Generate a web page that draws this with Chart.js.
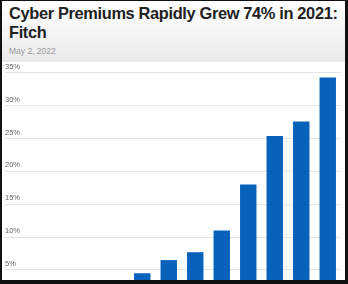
<!DOCTYPE html>
<html>
<head>
<meta charset="utf-8">
<script src="https://cdn.jsdelivr.net/npm/chart.js@4"></script>
<style>
html, body { margin: 0; padding: 0; background: #fff; }
#frame {
    position: relative;
    width: 343px;
    height: 279px;
    border-style: solid;
    border-color: #111;
    border-width: 1px 3px 4px 2px;
    overflow: hidden;
    font-family: "Liberation Sans", Arial, sans-serif;
}
#head {
    height: 61px;
    background: linear-gradient(#ffffff, #ebebeb);
    padding-left: 7px;
}
#head h1 {
    margin: 0;
    padding-top: 3px;
    font-size: 16.4px;
    line-height: 19px;
    font-weight: bold;
    color: #222;
    white-space: nowrap;
    letter-spacing: -0.35px;
}
#head .date {
    margin-top: 4px;
    font-size: 8.5px;
    color: #999;
}
#plot {
    position: absolute;
    left: 0;
    top: 61px;
    width: 343px;
    height: 218px;
}
</style>
</head>
<body>
<div id="frame">
    <div id="head">
        <h1>Cyber Premiums Rapidly Grew 74% in 2021:<br>Fitch</h1>
        <div class="date">May 2, 2022</div>
    </div>
    <div id="plot"><canvas id="chart"></canvas></div>
</div>

<script>
// =====================================
// DATA
// =====================================

const years = [
    "2010", "2011", "2012", "2013", "2014", "2015",
    "2016", "2017", "2018", "2019", "2020", "2021"
];

const premiumValues = [
    1.0, 1.5, 2.0, 2.8, 4.5, 6.5,
    7.7, 11.0, 18.0, 25.4, 27.6, 34.3
];

const yTicks = [5, 10, 15, 20, 25, 30, 35];

const yLabels = ["5%", "10%", "15%", "20%", "25%", "30%", "35%"];


// =====================================
// BAR CHART
// =====================================

const chart =
new Chart(

    document.getElementById("chart"),

    {
        type: "bar",

        data: {
            labels: years,
            datasets: [{
                data: premiumValues,
                backgroundColor: "#0862bc",
                barPercentage: 0.62,
                categoryPercentage: 1.0
            }]
        },

        options: {
            responsive: true,
            maintainAspectRatio: false,
            animation: false,
            layout: {
                padding: { left: 3, right: 4, top: 0, bottom: 0 }
            },
            plugins: {
                legend: { display: false },
                tooltip: { enabled: false }
            },
            scales: {
                x: {
                    display: false
                },
                y: {
                    min: 3.47,
                    max: 36.65,
                    border: { display: false },
                    grid: {
                        color: "#e4e4e4",
                        lineWidth: 1,
                        drawTicks: true,
                        tickLength: 18
                    },
                    afterFit: function(scale){
                        scale.width = 18;
                        scale.paddingTop = 0;
                        scale.paddingBottom = 0;
                    },
                    afterBuildTicks: function(scale){
                        scale.ticks = yTicks.map(v => ({ value: v }));
                    },
                    ticks: {
                        crossAlign: "far",
                        labelOffset: -6,
                        color: "#666",
                        font: { family: "Liberation Sans", size: 7.5 },
                        callback: function(value){
                            return yLabels[yTicks.indexOf(value)];
                        }
                    }
                }
            }
        }
    }
);
</script>
</body>
</html>
